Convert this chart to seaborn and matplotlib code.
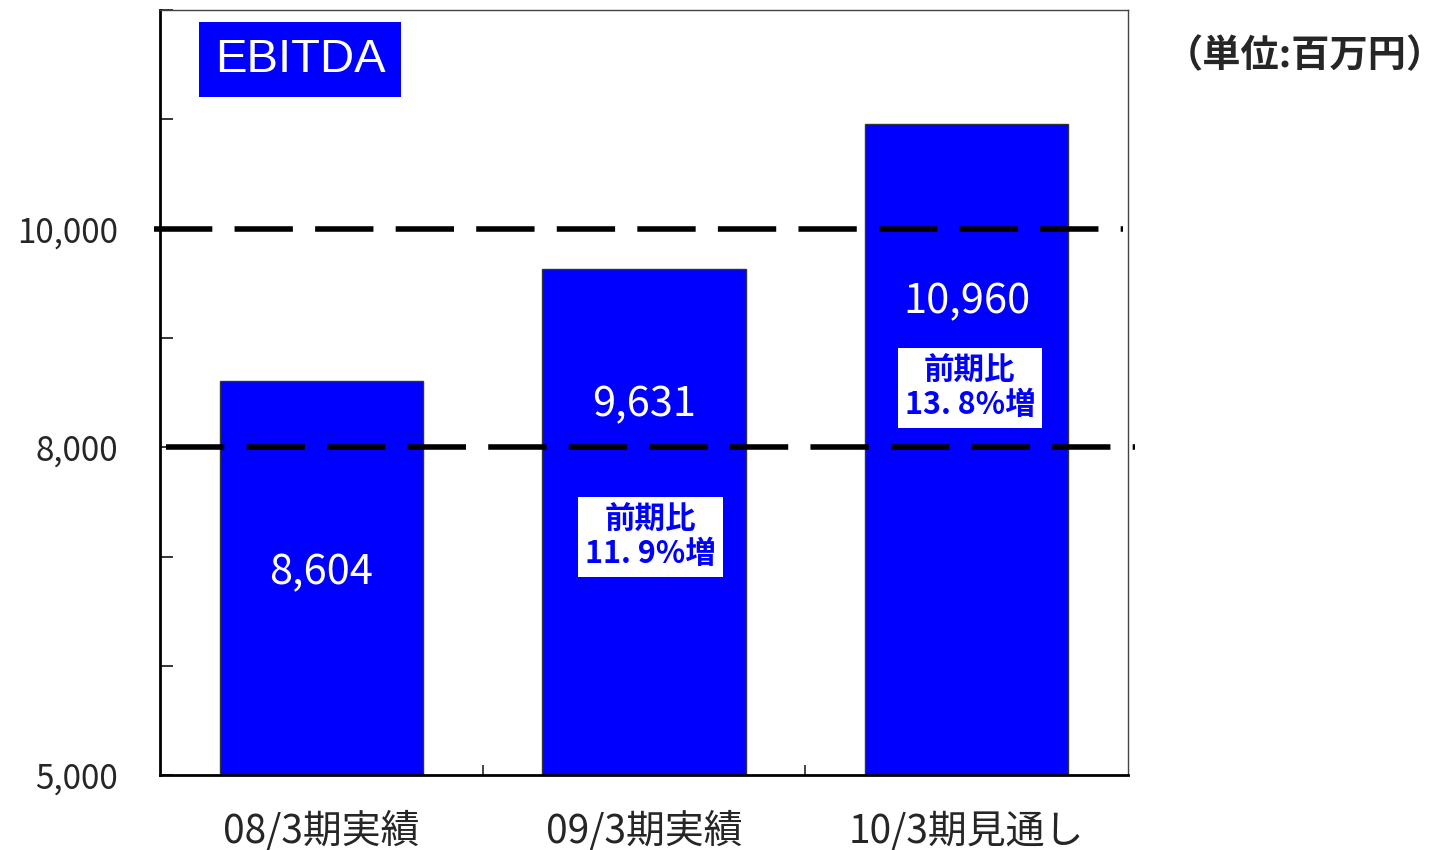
import matplotlib
matplotlib.use("Agg")
import matplotlib.pyplot as plt
import numpy as np
import pandas as pd
import seaborn as sns

# data (million yen)
periods = ["08/3期実績", "09/3期実績", "10/3期見通し"]
ebitda = [8604, 9631, 10960]
value_labels = ["8,604", "9,631", "10,960"]
growth_labels = [None, "前期比\n11. 9%増", "前期比\n13. 8%増"]
ref_lines = [8000, 10000]
ytick_vals = [5000, 6000, 7000, 8000, 9000, 10000, 11000, 12000]
ytick_text = ["5,000", "", "", "8,000", "", "10,000", "", ""]

# layout only
value_label_y = [6850, 8390, 9330]
growth_box_pos = [None, (1.02, 7180), (2.01, 8540)]

sns.set_style("white")
plt.rcParams['font.family'] = ['Noto Sans CJK JP', 'DejaVu Sans']

df = pd.DataFrame({"period": periods, "ebitda": ebitda})

fig = plt.figure(figsize=(14.56, 8.5), dpi=100)
ax = fig.add_axes([0.1099, 0.0882, 0.6648, 0.8998])

sns.barplot(data=df, x="period", y="ebitda", color="#0000FF", saturation=1,
            width=0.63, edgecolor="#333333", linewidth=1, ax=ax)

ax.set_xlim(-0.5, 2.5)
ax.set_ylim(5000, 12000)
ax.set_xlabel("")
ax.set_ylabel("")

# dashed reference lines, running a little past the frame
ax.axhline(ref_lines[1], xmin=-0.006, xmax=0.995, color="black", lw=4,
           dashes=(10.5, 4), clip_on=False, zorder=5)
ax.axhline(ref_lines[0], xmin=0.006, xmax=1.007, color="black", lw=4,
           dashes=(10.5, 4), clip_on=False, zorder=5)

# ticks
ax.set_yticks(ytick_vals)
ax.set_yticklabels(ytick_text)
ax.tick_params(axis="y", direction="in", length=9, width=1.3, pad=30,
               labelsize=24, left=True)
ax.set_xticks([0, 1, 2])
ax.set_xticklabels(periods)
ax.tick_params(axis="x", which="major", length=0, pad=26, labelsize=28)
ax.set_xticks([0.5, 1.5], minor=True)
ax.tick_params(axis="x", which="minor", direction="in", length=7, width=1.2,
               bottom=True)

for s in ["left", "bottom"]:
    ax.spines[s].set_color("black")
    ax.spines[s].set_linewidth(2)
for s in ["top", "right"]:
    ax.spines[s].set_color("#444444")
    ax.spines[s].set_linewidth(1)

# value labels inside the bars
for i, (lab, ly) in enumerate(zip(value_labels, value_label_y)):
    ax.text(i, ly, lab, color="white", fontsize=30, ha="center", va="center",
            zorder=6)

# growth boxes
for lab, pos in zip(growth_labels, growth_box_pos):
    if lab is None:
        continue
    ax.text(pos[0], pos[1], lab, color="#0000FF", fontsize=22, fontweight="bold",
            ha="center", va="center", linespacing=1.1, zorder=7,
            bbox=dict(boxstyle="square,pad=0.22", fc="white", ec="none"))

# title box
ax.text(0.1446, 0.935, "EBITDA", transform=ax.transAxes, color="white",
        fontsize=34, family="Liberation Sans", ha="center", va="center", zorder=7,
        bbox=dict(boxstyle="square,pad=0.33", fc="#0000FF", ec="none"))

fig.text(0.800, 0.935, "（単位:百万円）", fontsize=27.5, fontweight="bold",
         ha="left", va="center")

fig.savefig("out.png", dpi=100)
